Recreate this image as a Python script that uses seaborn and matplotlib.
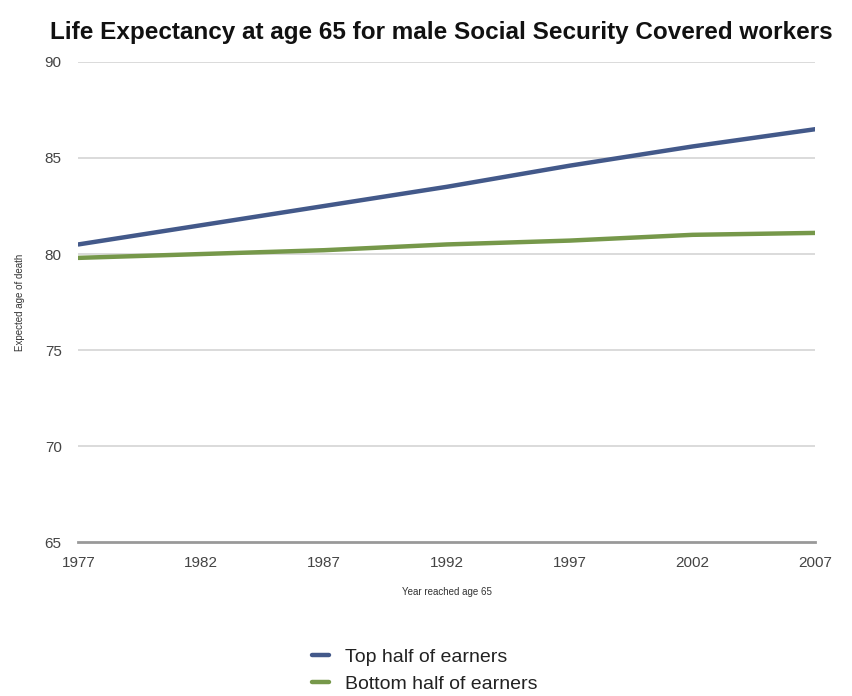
import matplotlib
matplotlib.use("Agg")
import matplotlib.pyplot as plt
import seaborn as sns
import pandas as pd

years = [1977, 1982, 1987, 1992, 1997, 2002, 2007]
top_half = [80.5, 81.5, 82.5, 83.5, 84.6, 85.6, 86.5]
bottom_half = [79.8, 80.0, 80.2, 80.5, 80.7, 81.0, 81.1]
series_names = ["Top half of earners", "Bottom half of earners"]
y_ticks = [65, 70, 75, 80, 85, 90]

df = pd.DataFrame({
    "year": years * 2,
    "value": top_half + bottom_half,
    "series": [series_names[0]] * len(years) + [series_names[1]] * len(years),
})

sns.set_theme(style="white")
plt.rcParams["font.family"] = ["Liberation Sans", "DejaVu Sans"]

fig = plt.figure(figsize=(8.52, 6.96), dpi=100)
ax = fig.add_axes([0.092, 0.221, 0.865, 0.69])

palette = {series_names[0]: "#43598a", series_names[1]: "#76984a"}
sns.lineplot(data=df, x="year", y="value", hue="series", palette=palette,
             linewidth=3.2, ax=ax, legend=True)

ax.set_xlim(1977, 2007)
ax.set_ylim(65, 90)
ax.set_yticks(y_ticks)
ax.set_xticks(years)
ax.set_xticklabels([str(y) for y in years], fontsize=11, color="#444444")
ax.set_yticklabels([str(y) for y in y_ticks], fontsize=11, color="#444444")
ax.tick_params(axis="both", length=0)
ax.tick_params(axis="y", pad=12)
ax.tick_params(axis="x", pad=10)
for y in y_ticks[1:]:
    ax.axhline(y, color="#d4d4d4", linewidth=1.2, zorder=0)
for s in ["top", "right", "left"]:
    ax.spines[s].set_visible(False)
ax.spines["bottom"].set_color("#999999")
ax.spines["bottom"].set_linewidth(2)

ax.set_xlabel("Year reached age 65", fontsize=7, color="#333333", labelpad=12)
ax.set_ylabel("Expected age of death", fontsize=7, color="#333333")
ax.yaxis.set_label_coords(-0.072, 0.5)

fig.text(0.518, 0.953, "Life Expectancy at age 65 for male Social Security Covered workers",
         ha="center", va="center", fontsize=17.5, fontweight="bold", color="#111111")

handles, labels = ax.get_legend_handles_labels()
ax.legend(handles, labels, loc="upper center", bbox_to_anchor=(0.47, -0.185),
          frameon=False, fontsize=14, handlelength=0.9, handletextpad=0.8,
          labelspacing=0.45, labelcolor="#222222")

fig.savefig("out.png", dpi=100, facecolor="white")
